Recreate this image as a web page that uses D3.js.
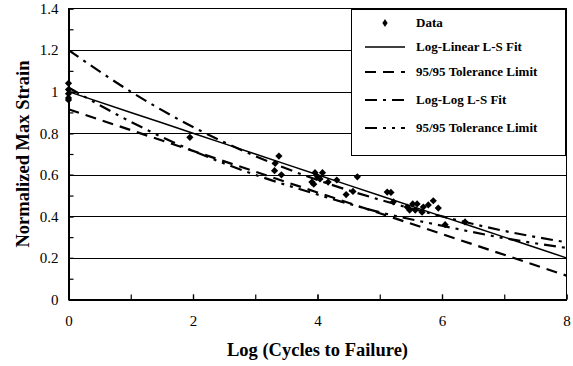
<!DOCTYPE html>
<html>
<head>
<meta charset="utf-8">
<script src="https://cdn.jsdelivr.net/npm/d3@7/dist/d3.min.js"></script>
<style>
  body { margin: 0; background: #fff; }
  text { font-family: "Liberation Serif", "Times New Roman", serif; fill: #000; }
</style>
</head>
<body>
<svg id="chart" width="573" height="366"></svg>
<script>
// data
var dataX = [0, 0, 0, 0, 0, 1.95,
    3.38, 3.32, 3.31, 3.42,
    3.96, 4.08, 4.00, 3.91, 3.94, 4.04, 4.17, 4.31, 4.64, 4.46, 4.57,
    5.12, 5.18, 5.22, 5.44, 5.48, 5.53, 5.60, 5.57, 5.68, 5.70, 5.78, 5.86, 5.94, 6.05, 6.37];
var dataY = [1.04, 1.01, 0.99, 0.97, 0.96, 0.78,
    0.69, 0.655, 0.62, 0.60,
    0.61, 0.61, 0.59, 0.565, 0.555, 0.58, 0.565, 0.575, 0.59, 0.505, 0.52,
    0.517, 0.515, 0.47, 0.445, 0.43, 0.46, 0.46, 0.43, 0.42, 0.445, 0.455, 0.475, 0.44, 0.36, 0.373];

var fitX = [0, 1, 2, 3, 4, 5, 6, 7, 8];
var logLinFit = [1.0, 0.9, 0.8, 0.7, 0.6, 0.5, 0.4, 0.3, 0.2];
var logLinTol = [0.915, 0.815, 0.715, 0.615, 0.515, 0.415, 0.315, 0.215, 0.115];
var logLogFit = [1.2, 1.0, 0.83, 0.69, 0.575, 0.48, 0.40, 0.33, 0.275];
var logLogTol = [1.02, 0.855, 0.715, 0.60, 0.505, 0.42, 0.355, 0.295, 0.248];

var xTicks = [0, 2, 4, 6, 8];
var xMinor = [0, 1, 2, 3, 4, 5, 6, 7, 8];
var yTicks = [0, 0.2, 0.4, 0.6, 0.8, 1, 1.2, 1.4];
var yTickLabels = ['0', '0.2', '0.4', '0.6', '0.8', '1', '1.2', '1.4'];
var yMinor = [0, 0.1, 0.2, 0.3, 0.4, 0.5, 0.6, 0.7, 0.8, 0.9, 1, 1.1, 1.2, 1.3, 1.4];
var gridY = [0.2, 0.4, 0.6, 0.8, 1, 1.2];

var legendLabels = ['Data', 'Log-Linear L-S Fit', '95/95 Tolerance Limit',
    'Log-Log L-S Fit', '95/95 Tolerance Limit'];

var serif = '"Liberation Serif", "Times New Roman", serif';
var svg = d3.select('#chart');

var x = d3.scaleLinear().domain([0, 8]).range([68.5, 566.5]),
    y = d3.scaleLinear().domain([0, 1.4]).range([299.5, 8.5]);

// horizontal grid
svg.append('g').selectAll('line')
    .data(gridY)
    .enter().append('line')
        .attr('x1', x(0)).attr('x2', x(8))
        .attr('y1', function(d) { return Math.round(y(d)) + 0.5; })
        .attr('y2', function(d) { return Math.round(y(d)) + 0.5; })
        .attr('stroke', '#000')
        .attr('stroke-width', 1);

// plot frame (top/right thin)
svg.append('rect')
    .attr('x', x(0)).attr('y', y(1.4))
    .attr('width', x(8) - x(0)).attr('height', y(0) - y(1.4))
    .attr('fill', 'none')
    .attr('stroke', '#000')
    .attr('stroke-width', 1);

// series lines
var styles = [
    {vals: logLinFit, dash: null, w: 1.5},
    {vals: logLinTol, dash: '11,7', w: 2.2},
    {vals: logLogFit, dash: '12,6,3,6', w: 2.2},
    {vals: logLogTol, dash: '12,6,3,6,3,6', w: 2.2}
];

var line = d3.line()
    .x(function(d) { return x(d[0]); })
    .y(function(d) { return y(d[1]); })
    .curve(d3.curveMonotoneX);

var gLines = svg.append('g').attr('class', 'fits');
styles.forEach(function(s) {
    gLines.append('path')
        .datum(fitX.map(function(v, i) { return [v, s.vals[i]]; }))
        .attr('d', line)
        .attr('fill', 'none')
        .attr('stroke', '#000')
        .attr('stroke-width', s.w)
        .attr('stroke-dasharray', s.dash);
});

// data markers
function diamond(r) {
    return 'M0,' + (-r) + 'L' + r + ',0L0,' + r + 'L' + (-r) + ',0Z';
}

svg.append('g').attr('class', 'points')
    .selectAll('path')
    .data(dataX.map(function(v, i) { return [v, dataY[i]]; }))
    .enter().append('path')
        .attr('d', diamond(3.6))
        .attr('transform', function(d) {
            return 'translate(' + x(d[0]) + ',' + y(d[1]) + ')';
        })
        .attr('fill', '#000');

// axes
var yAxis = d3.axisLeft(y)
    .tickValues(yTicks)
    .tickFormat(function(d, i) { return yTickLabels[i]; })
    .tickSizeInner(-5).tickSizeOuter(0).tickPadding(10);

svg.append('g')
    .attr('transform', 'translate(' + x(0) + ',0)')
    .call(yAxis);

svg.append('g')
    .attr('transform', 'translate(' + x(0) + ',0)')
    .call(d3.axisLeft(y).tickValues(yMinor).tickFormat('')
        .tickSizeInner(-5).tickSizeOuter(0));

var xAxis = d3.axisBottom(x)
    .tickValues(xTicks)
    .tickFormat(d3.format('d'))
    .tickSizeInner(-5).tickSizeOuter(0).tickPadding(16);

svg.append('g')
    .attr('transform', 'translate(0,' + y(0) + ')')
    .call(xAxis);

svg.append('g')
    .attr('transform', 'translate(0,' + y(0) + ')')
    .call(d3.axisBottom(x).tickValues(xMinor).tickFormat('')
        .tickSizeInner(-5).tickSizeOuter(0));

svg.selectAll('.domain').attr('stroke', '#000').attr('stroke-width', 2);
svg.selectAll('.tick line').attr('stroke', '#000').attr('stroke-width', 1.2);
svg.selectAll('g').attr('font-family', serif);
svg.selectAll('.tick text')
    .style('font-family', serif)
    .style('font-size', '15px')
    .attr('fill', '#000');

// axis titles
svg.append('text')
    .attr('x', (x(0) + x(8)) / 2)
    .attr('y', 356)
    .attr('text-anchor', 'middle')
    .style('font-family', serif)
    .style('font-size', '18.5px')
    .style('font-weight', 'bold')
    .text('Log (Cycles to Failure)');

svg.append('text')
    .attr('transform', 'translate(29,' + (y(0) + y(1.4)) / 2 + ') rotate(-90)')
    .attr('text-anchor', 'middle')
    .style('font-family', serif)
    .style('font-size', '18.5px')
    .style('font-weight', 'bold')
    .text('Normalized Max Strain');

// legend
var legend = svg.append('g').attr('class', 'legend');
legend.append('rect')
    .attr('x', 351.5).attr('y', 9.5)
    .attr('width', 214).attr('height', 146)
    .attr('fill', '#fff')
    .attr('stroke', '#000')
    .attr('stroke-width', 1);

var rowY = [23, 47, 72, 100, 128];

legendLabels.forEach(function(label, i) {
    var ry = rowY[i];
    if(i === 0) {
        legend.append('path')
            .attr('d', 'M0,-4L2.6,0L0,4L-2.6,0Z')
            .attr('transform', 'translate(385,' + ry + ')')
            .attr('fill', '#000');
    }
    else {
        var s = styles[i - 1];
        legend.append('line')
            .attr('x1', 365).attr('x2', 405)
            .attr('y1', ry).attr('y2', ry)
            .attr('stroke', '#000')
            .attr('stroke-width', s.w)
            .attr('stroke-dasharray', s.dash);
    }
    legend.append('text')
        .attr('x', 416)
        .attr('y', ry + 4)
        .style('font-family', serif)
        .style('font-size', '13px')
        .style('font-weight', 'bold')
        .text(label);
});
</script>
</body>
</html>
